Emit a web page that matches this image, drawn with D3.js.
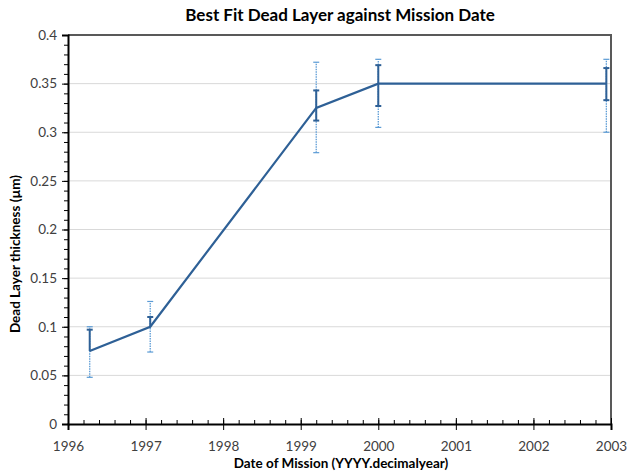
<!DOCTYPE html>
<html><head><meta charset="utf-8">
<script src="https://cdn.jsdelivr.net/npm/d3@7"></script>
<style>body{margin:0;background:#fff;} svg{display:block;}</style>
</head><body>
<svg id="c" width="634" height="474"></svg>
<script>
const dates     = [1996.28, 1997.06, 1999.2, 2000.0, 2002.94];
const thickness = [0.075, 0.100, 0.325, 0.350, 0.350];
const innerLow  = [0.075, 0.100, 0.312, 0.327, 0.333];
const innerHigh = [0.097, 0.110, 0.343, 0.369, 0.366];
const outerLow  = [0.048, 0.074, 0.279, 0.305, 0.300];
const outerHigh = [0.100, 0.126, 0.372, 0.375, 0.375];
const xTicks = [1996, 1997, 1998, 1999, 2000, 2001, 2002, 2003];
const yTicks = [0, 0.05, 0.1, 0.15, 0.2, 0.25, 0.3, 0.35, 0.4];
const title = "Best Fit Dead Layer against Mission Date";
const xTitle = "Date of Mission (YYYY.decimalyear)";
const yTitle = "Dead Layer thickness (µm)";

const svg = d3.select("#c");
const m = {l: 68, r: 611, t: 35, b: 424};
const x = d3.scaleLinear().domain([1996, 2003]).range([m.l, m.r]);
const y = d3.scaleLinear().domain([0, 0.4]).range([m.b, m.t]);
const font = "Lato, 'Open Sans', sans-serif";

// gridlines
svg.append("g").selectAll("line").data(yTicks.slice(1)).join("line")
  .attr("x1", m.l).attr("x2", m.r).attr("y1", d => y(d)).attr("y2", d => y(d))
  .attr("stroke", "#d9d9d9").attr("stroke-width", 1);

// frame top/right
svg.append("path").attr("d", `M${m.l},${m.t}H${m.r}V${m.b}`)
  .attr("fill", "none").attr("stroke", "#595959").attr("stroke-width", 2);

// minor ticks
const yMinor = d3.range(0, 0.4001, 0.01);
svg.append("g").attr("transform", `translate(${m.l},0)`)
  .call(d3.axisLeft(y).tickValues(yMinor).tickSize(4).tickFormat(""))
  .call(g => g.select(".domain").remove())
  .selectAll("line").attr("stroke", "#000");
const xMinor = d3.range(1996, 2003.001, 0.2);
svg.append("g").attr("transform", `translate(0,${m.b})`)
  .call(d3.axisTop(x).tickValues(xMinor).tickSize(4).tickFormat(""))
  .call(g => g.select(".domain").remove())
  .selectAll("line").attr("stroke", "#000");

// axes
const yAx = svg.append("g").attr("transform", `translate(${m.l},0)`)
  .call(d3.axisLeft(y).tickValues(yTicks).tickSize(6).tickPadding(5).tickFormat(d => d3.format("")(+d.toFixed(2))));
yAx.select(".domain").attr("stroke", "#000").attr("stroke-width", 2);
yAx.selectAll("line").attr("stroke", "#000");
yAx.selectAll("text").attr("font-family", font).attr("font-size", 13.5).attr("fill", "#404040");

const xAx = svg.append("g").attr("transform", `translate(0,${m.b})`)
  .call(d3.axisBottom(x).tickValues(xTicks).tickSize(6).tickPadding(11).tickFormat(d3.format("d")));
xAx.select(".domain").attr("stroke", "#000").attr("stroke-width", 2);
xAx.selectAll(".tick line").attr("y1", -6).attr("stroke", "#000");
xAx.selectAll("text").attr("font-family", font).attr("font-size", 13.5).attr("fill", "#404040");

// data
const data = dates.map((d, i) => ({x: d, y: thickness[i], il: innerLow[i], ih: innerHigh[i], ol: outerLow[i], oh: outerHigh[i]}));

// outer dotted error bars
const eo = svg.append("g");
data.forEach(d => {
  eo.append("line").attr("x1", x(d.x)).attr("x2", x(d.x)).attr("y1", y(d.ol)).attr("y2", y(d.oh))
    .attr("stroke", "#5b9bd5").attr("stroke-width", 1.3).attr("stroke-dasharray", "1.5,1");
  [d.ol, d.oh].forEach(v => eo.append("line").attr("x1", x(d.x) - 3).attr("x2", x(d.x) + 3)
    .attr("y1", y(v)).attr("y2", y(v)).attr("stroke", "#5b9bd5").attr("stroke-width", 1.2));
});

// main line
svg.append("path").datum(data)
  .attr("d", d3.line().x(d => x(d.x)).y(d => y(d.y)))
  .attr("fill", "none").attr("stroke", "#2e6096").attr("stroke-width", 2.2);

// inner solid error bars
const ei = svg.append("g");
data.forEach(d => {
  ei.append("line").attr("x1", x(d.x)).attr("x2", x(d.x)).attr("y1", y(d.il)).attr("y2", y(d.ih))
    .attr("stroke", "#2e6096").attr("stroke-width", 2);
  [d.il, d.ih].forEach(v => { if (v !== d.y) ei.append("line").attr("x1", x(d.x) - 3).attr("x2", x(d.x) + 3)
    .attr("y1", y(v)).attr("y2", y(v)).attr("stroke", "#2e6096").attr("stroke-width", 2); });
});

// titles
svg.append("text").attr("x", 340).attr("y", 21).attr("text-anchor", "middle")
  .attr("font-family", font).attr("font-weight", "bold").attr("font-size", 17).attr("fill", "#000").text(title);
svg.append("text").attr("x", 341).attr("y", 468).attr("text-anchor", "middle")
  .attr("font-family", font).attr("font-weight", "bold").attr("font-size", 13.5).attr("fill", "#000").text(xTitle);
svg.append("text").attr("transform", `translate(20,254) rotate(-90)`).attr("text-anchor", "middle")
  .attr("font-family", font).attr("font-weight", "bold").attr("font-size", 13.5).attr("fill", "#000").text(yTitle);
</script>
</body></html>
